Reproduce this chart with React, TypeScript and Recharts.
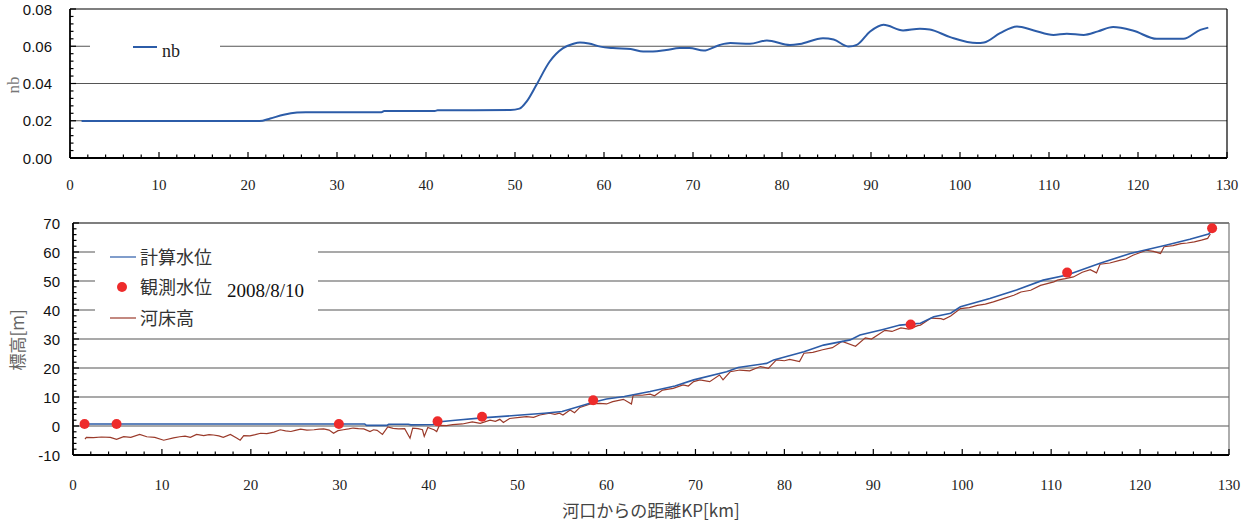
import { LineChart, ComposedChart, Line, XAxis, YAxis, ReferenceLine, Legend } from 'recharts'

// 上段: 粗度係数 nb
const nbKm = [1.3, 21.3, 22.5, 24, 25.5, 26.5, 35, 35.3, 41, 41.3, 49.5, 50.5, 51.3, 52.4, 53.9, 55.4, 56.5, 57.3, 58.3, 59.6, 61, 63, 64.4, 65.5, 67, 68.5, 69.6, 71.2, 73, 74.2, 76.4, 78.3, 80.9, 82, 84.6, 85.8, 87.5, 88.4, 89.9, 91.4, 93.6, 95.5, 96.6, 98.9, 101.9, 102.7, 104.5, 106.4, 108.3, 110.5, 112, 113.9, 115.5, 117.2, 119.5, 122.1, 125.1, 127, 127.9]
const nbValues = [0.0198, 0.0198, 0.0212, 0.0232, 0.0244, 0.0246, 0.0246, 0.0252, 0.0253, 0.0256, 0.0258, 0.0265, 0.0303, 0.0392, 0.0518, 0.059, 0.0612, 0.062, 0.0615, 0.0598, 0.059, 0.0585, 0.0572, 0.0572, 0.058, 0.059, 0.059, 0.0577, 0.0607, 0.0617, 0.0613, 0.0631, 0.0607, 0.0612, 0.0643, 0.0636, 0.0598, 0.0607, 0.0679, 0.0715, 0.0685, 0.0694, 0.069, 0.0649, 0.0617, 0.062, 0.067, 0.0706, 0.0685, 0.0661, 0.0667, 0.0661, 0.068, 0.0703, 0.0683, 0.064, 0.064, 0.0688, 0.07]

// 下段: 計算水位
const calcKm = [1.3, 32.8, 33.0, 35.3, 35.5, 37.7, 38.0, 40.5, 41, 43, 46, 50, 53, 55, 57, 58.5, 60, 62, 64.9, 67.7, 69.8, 73.5, 74.8, 78, 78.8, 82.2, 84.4, 87.4, 88.5, 91.1, 93, 95.3, 96.8, 98.7, 99.8, 103.1, 106.1, 109.1, 111.8, 115.5, 118.9, 123, 125.6, 127.7, 128]
const calcLevel = [0.7, 0.7, 0.2, 0.2, 0.6, 0.6, 0.4, 0.5, 1.4, 2.0, 2.8, 3.7, 4.4, 5.0, 6.8, 8.2, 9.3, 10.2, 11.9, 13.8, 15.9, 18.7, 20.2, 21.6, 22.8, 25.6, 27.9, 29.7, 31.4, 33.3, 34.8, 35.4, 37.7, 38.9, 41.1, 44, 46.9, 50.3, 52.1, 56.1, 59.5, 62.4, 64.4, 66.2, 67.2]

// 観測水位 2008/8/10
const obsKm = [1.3, 4.9, 29.9, 41, 46, 58.5, 94.2, 111.8, 128.1]
const obsLevel = [0.7, 0.7, 0.7, 1.6, 3.2, 8.9, 35, 52.9, 68.2]

// 河床高
const bedKm = [1.35, 1.5, 2.3, 3.2, 4.2, 4.9, 5.7, 6.5, 7.5, 8.3, 9.2, 10.2, 11.3, 12.0, 12.6, 13.2, 13.9, 14.7, 15.3, 15.8, 16.4, 16.9, 17.7, 18.4, 18.8, 19.2, 19.9, 20.5, 21.1, 21.8, 22.6, 23.3, 23.9, 24.5, 25.0, 25.6, 26.3, 27.1, 27.7, 28.2, 28.8, 29.3, 29.8, 30.4, 31.0, 31.5, 32.1, 32.7, 33.4, 33.8, 34.2, 34.8, 35.4, 36.0, 36.6, 37.3, 37.9, 38.2, 38.8, 39.3, 39.5, 39.9, 40.6, 40.9, 41.2, 42.0, 42.7, 43.8, 44.9, 45.8, 46.9, 47.5, 48.0, 48.4, 49.1, 50.2, 51.0, 51.8, 52.5, 53.6, 54.2, 54.7, 55.1, 55.9, 56.4, 57.0, 58.1, 59.2, 60.0, 60.7, 61.9, 62.8, 63.0, 64.0, 64.9, 65.4, 66.3, 67.5, 68.6, 69.2, 69.8, 70.5, 71.6, 72.7, 73.1, 73.9, 75.0, 76.1, 77.3, 78.2, 79.1, 80.0, 80.6, 81.7, 82.2, 83.2, 84.3, 85.4, 86.5, 88.0, 89.1, 89.8, 91.3, 92.1, 93.1, 94.0, 95.0, 95.3, 96.5, 97.6, 97.9, 98.7, 99.8, 100.8, 101.7, 102.6, 103.5, 104.7, 105.8, 106.6, 107.7, 108.8, 110.3, 110.7, 111.6, 112.5, 113.5, 114.4, 115.1, 115.5, 116.6, 117.7, 118.4, 119.2, 120.7, 121.5, 122.3, 122.7, 123.7, 124.6, 125.3, 126.1, 126.9, 127.6, 127.9]
const bedLevel = [-4.5, -3.9, -4.0, -3.8, -3.9, -4.6, -3.7, -3.9, -2.9, -3.7, -3.9, -4.9, -4.1, -3.7, -3.5, -3.9, -2.9, -3.3, -3.0, -3.1, -3.4, -3.9, -2.9, -4.1, -4.9, -3.3, -3.4, -3.0, -2.5, -2.6, -2.1, -1.3, -1.7, -1.9, -1.5, -1.1, -1.4, -1.3, -1.1, -1.0, -1.4, -2.5, -1.6, -1.3, -1.0, -0.7, -0.9, -1.0, -1.9, -1.3, -1.5, -2.9, -0.3, -0.8, -1.0, -0.9, -4.2, -0.7, -0.9, -1.3, -3.6, -0.5, -1.3, -1.9, 0.2, 0.1, 0.5, 0.7, 1.4, 0.9, 2.0, 1.6, 2.3, 1.2, 2.6, 3.0, 3.2, 3.0, 3.8, 4.4, 4.0, 4.4, 3.8, 5.5, 4.6, 6.4, 7.5, 7.8, 7.6, 8.4, 9.2, 7.6, 10.7, 10.6, 11.0, 10.4, 12.4, 13.0, 14.2, 13.8, 15.3, 15.9, 15.3, 17.6, 15.9, 18.7, 19.3, 19.0, 20.5, 19.9, 22.8, 22.5, 23.0, 22.2, 25.1, 25.4, 26.3, 27.0, 29.2, 27.5, 30.4, 30.0, 33.0, 32.6, 33.8, 33.4, 34.6, 34.8, 37.2, 37.0, 36.7, 37.9, 40.5, 40.8, 41.6, 42.0, 42.8, 44.0, 45.1, 46.2, 46.8, 48.5, 49.7, 50.3, 50.8, 51.4, 53.0, 53.9, 52.8, 55.8, 56.2, 57.1, 57.6, 58.9, 60.6, 60.2, 59.5, 61.8, 62.2, 62.9, 63.1, 63.5, 64.1, 64.7, 66.2]

const kmTicks = Array.from({ length: 66 }, (_, i) => i * 2)
const nbTicks = Array.from({ length: 21 }, (_, i) => +(i * 0.004).toFixed(3))
const nbGrid = [0.02, 0.04, 0.06]
const elevTicks = Array.from({ length: 41 }, (_, i) => -10 + i * 2)
const elevGrid = [0, 10, 20, 30, 40, 50, 60]

const nbData = nbKm.map((km, i) => ({ km, nb: nbValues[i] }))
const calcData = calcKm.map((km, i) => ({ km, level: calcLevel[i] }))
const obsData = obsKm.map((km, i) => ({ km, level: obsLevel[i] }))
const bedData = bedKm.map((km, i) => ({ km, level: bedLevel[i] }))

const SERIF = '"Liberation Serif", "Times New Roman", serif'
const SANS = '"Liberation Sans", Arial, sans-serif'
const CJK = '"Noto Sans CJK JP", "Noto Sans", sans-serif'

const BLUE = '#2c5ca8'
const BROWN = '#9a3a2a'
const RED = '#ee2b2b'

function XTick(props: any) {
  const { x, y, payload, labelDy } = props
  const v = payload.value
  const major = v % 10 === 0
  return (
    <g>
      <line x1={x} x2={x} y1={y} y2={y - (major ? 6 : 3.5)} stroke="#000" strokeWidth={1.2} />
      {major && (
        <text x={x} y={y + labelDy} textAnchor="middle" fontFamily={SERIF} fontSize={15} fill="#222">
          {v}
        </text>
      )}
    </g>
  )
}

function YTick(props: any) {
  const { x, y, payload, step, gap, digits } = props
  const v = payload.value
  const major = Math.abs(v / step - Math.round(v / step)) < 1e-6
  return (
    <g>
      <line x1={x} x2={x + (major ? 6 : 3.5)} y1={y} y2={y} stroke="#000" strokeWidth={1.2} />
      {major && (
        <text x={x - gap} y={y + 5.5} textAnchor="end" fontFamily={SANS} fontSize={15} fill="#111">
          {v.toFixed(digits)}
        </text>
      )}
    </g>
  )
}

function NbLegend() {
  return (
    <svg width={130} height={27}>
      <line x1={43} x2={67} y1={14} y2={14} stroke={BLUE} strokeWidth={2} />
      <text x={72} y={24} fontFamily={SERIF} fontSize={18} fill="#222">nb</text>
    </svg>
  )
}

function LevelLegend() {
  return (
    <svg width={223} height={97}>
      <line x1={15} x2={41} y1={24} y2={24} stroke={BLUE} strokeWidth={1.2} />
      <text x={45} y={31} fontFamily={CJK} fontSize={18} fill="#333">計算水位</text>
      <circle cx={27} cy={54} r={5} fill={RED} />
      <text x={45} y={61} fontFamily={CJK} fontSize={18} fill="#333">観測水位</text>
      <text x={132} y={64} fontFamily={SERIF} fontSize={19} fill="#111">2008/8/10</text>
      <line x1={15} x2={41} y1={85} y2={85} stroke={BROWN} strokeWidth={1.2} />
      <text x={45} y={92} fontFamily={CJK} fontSize={18} fill="#333">河床高</text>
    </svg>
  )
}

export default function App() {
  return (
    <div style={{ width: 1250, height: 524, background: '#fff' }}>
      <style>{'body{margin:0}'}</style>
      <LineChart width={1250} height={200} data={nbData} margin={{ top: 9, right: 23, left: 0, bottom: 0 }}>
        {nbGrid.map(v => (
          <ReferenceLine key={v} y={v} stroke="#555" strokeWidth={1.2} />
        ))}
        <ReferenceLine y={0.08} stroke="#000" strokeWidth={1.2} />
        <ReferenceLine x={130} stroke="#000" strokeWidth={1.2} />
        <XAxis
          dataKey="km"
          type="number"
          domain={[0, 130]}
          ticks={kmTicks}
          interval={0}
          height={42}
          tickSize={0}
          tickMargin={0}
          tickLine={false}
          axisLine={{ stroke: '#000', strokeWidth: 1.8 }}
          tick={(p: any) => <XTick {...p} labelDy={32} />}
        />
        <YAxis
          type="number"
          domain={[0, 0.08]}
          ticks={nbTicks}
          interval={0}
          width={70}
          tickSize={0}
          tickMargin={0}
          tickLine={false}
          axisLine={{ stroke: '#000', strokeWidth: 1.8 }}
          tick={(p: any) => <YTick {...p} step={0.02} gap={18} digits={2} />}
          label={{
            content: () => (
              <text x={19} y={85} transform="rotate(-90 19 85)" textAnchor="middle" fontFamily={SERIF} fontSize={17} fill="#777">
                nb
              </text>
            ),
          }}
        />
        <Legend
          layout="vertical"
          align="center"
          verticalAlign="middle"
          wrapperStyle={{ left: 90, top: 33, width: 130, height: 27, background: '#fff' }}
          content={() => <NbLegend />}
        />
        <Line type="monotone" dataKey="nb" stroke={BLUE} strokeWidth={2} dot={false} isAnimationActive={false} />
      </LineChart>

      <ComposedChart width={1250} height={324} margin={{ top: 23, right: 21, left: 0, bottom: 0 }}>
        {elevGrid.map(v => (
          <ReferenceLine key={v} y={v} stroke="#555" strokeWidth={1.2} />
        ))}
        <ReferenceLine y={70} stroke="#000" strokeWidth={1.2} />
        <ReferenceLine x={130} stroke="#777" strokeWidth={1.2} />
        <XAxis
          dataKey="km"
          type="number"
          domain={[0, 130]}
          ticks={kmTicks}
          interval={0}
          height={69}
          tickSize={0}
          tickMargin={0}
          tickLine={false}
          axisLine={{ stroke: '#000', strokeWidth: 2 }}
          tick={(p: any) => <XTick {...p} labelDy={35} />}
          label={{
            content: () => (
              <text x={651} y={317} textAnchor="middle" fontFamily={CJK} fontSize={17} fill="#444">
                河口からの距離KP[km]
              </text>
            ),
          }}
        />
        <YAxis
          type="number"
          domain={[-10, 70]}
          ticks={elevTicks}
          interval={0}
          width={73}
          tickSize={0}
          tickMargin={0}
          tickLine={false}
          axisLine={{ stroke: '#000', strokeWidth: 1.8 }}
          tick={(p: any) => <YTick {...p} step={10} gap={13} digits={0} />}
          label={{
            content: () => (
              <text x={24} y={140} transform="rotate(-90 24 140)" textAnchor="middle" fontFamily={CJK} fontSize={17} fill="#666">
                標高[m]
              </text>
            ),
          }}
        />
        <Legend
          layout="vertical"
          align="center"
          verticalAlign="middle"
          wrapperStyle={{ left: 95, top: 33, width: 223, height: 97, background: '#fff' }}
          content={() => <LevelLegend />}
        />
        <Line data={bedData} type="linear" dataKey="level" name="河床高" stroke={BROWN} strokeWidth={1.2} dot={false} isAnimationActive={false} />
        <Line data={calcData} type="linear" dataKey="level" name="計算水位" stroke={BLUE} strokeWidth={1.6} dot={false} isAnimationActive={false} />
        <Line
          data={obsData}
          dataKey="level"
          name="観測水位"
          stroke="none"
          dot={{ r: 5, fill: RED, stroke: 'none' }}
          isAnimationActive={false}
        />
      </ComposedChart>
    </div>
  )
}
